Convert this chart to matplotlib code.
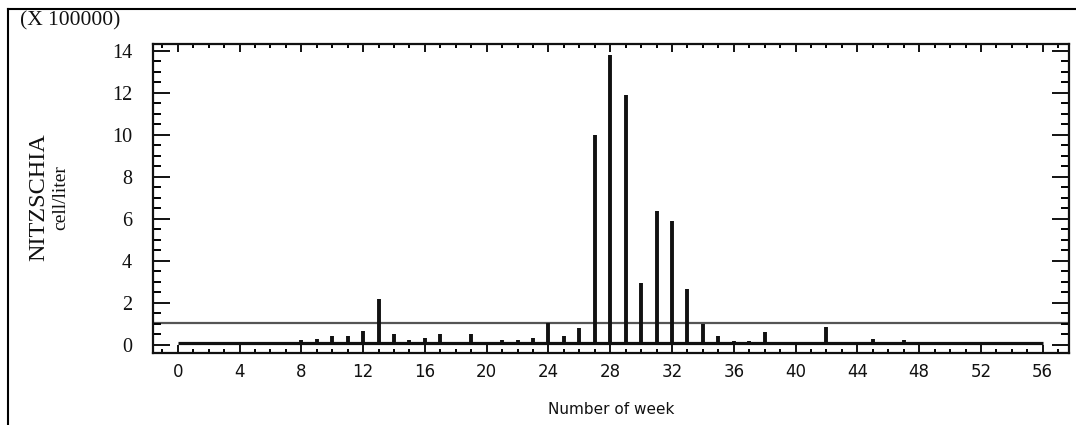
import numpy as np
import matplotlib
matplotlib.use("Agg")
import matplotlib.pyplot as plt
from matplotlib.lines import Line2D
from matplotlib.ticker import MultipleLocator

# weekly counts (x 100000 cell/liter)
weeks = list(range(0, 57))
values = [0, 0, 0, 0, 0, 0, 0, 0, 0.22, 0.30,
          0.43, 0.43, 0.68, 2.2, 0.52, 0.22, 0.32, 0.52, 0, 0.52,
          0, 0.22, 0.22, 0.32, 1.05, 0.43, 0.80, 10.0, 13.8, 11.9,
          2.95, 6.38, 5.9, 2.68, 1.0, 0.41, 0.20, 0.20, 0.59, 0,
          0, 0, 0.87, 0, 0, 0.30, 0, 0.22, 0, 0,
          0, 0, 0, 0, 0, 0, 0]
mean_level = 1.04
x_ticks = list(range(0, 57, 4))
y_ticks = list(range(0, 15, 2))

fig = plt.figure(figsize=(10.76, 4.25), dpi=100)
ax = fig.add_axes([153 / 1076, 1 - 353 / 425, (1069 - 153) / 1076, (353 - 44) / 425])

# baseline + bars
ax.hlines(0.07, 0, 56, color="#111111", lw=2.3, zorder=2)
ax.vlines(weeks, 0.07, [max(v, 0.07) for v in values], color="#111111", lw=2.8, zorder=3)
ax.axhline(mean_level, color="#555555", lw=1.6, zorder=1)

ax.set_xlim(-1.6, 57.7)
ax.set_ylim(-0.39, 14.32)

ax.xaxis.set_major_locator(MultipleLocator(4))
ax.xaxis.set_minor_locator(MultipleLocator(1))
ax.yaxis.set_major_locator(MultipleLocator(2))
ax.yaxis.set_minor_locator(MultipleLocator(0.5))
ax.set_xticks(x_ticks)
ax.set_yticks(y_ticks)

for s in ax.spines.values():
    s.set_linewidth(1.6)
    s.set_color("#111111")

ax.tick_params(axis="x", which="major", direction="in", length=5.8, width=1.4,
               top=True, bottom=True, pad=7, labelsize=12, colors="#111111")
ax.tick_params(axis="x", which="minor", direction="in", length=3.0, width=1.4,
               top=True, bottom=True)
ax.tick_params(axis="y", which="major", direction="in", length=12.2, width=1.4,
               left=True, right=True, pad=15, labelsize=14.5, colors="#111111")
ax.tick_params(axis="y", which="minor", direction="in", length=6, width=1.4,
               left=True, right=True)
for lab in ax.get_yticklabels():
    lab.set_fontfamily("Liberation Serif")
for lab in ax.get_xticklabels():
    lab.set_fontfamily("DejaVu Sans")

fig.text(20 / 1076, 1 - 21 / 425, "(X 100000)", ha="left", va="center",
         fontsize=15.5, family="Liberation Serif", color="#111111")
fig.text(39 / 1076, 1 - 197 / 425, "NITZSCHIA", rotation=90, ha="center", va="center",
         fontsize=17.5, family="Liberation Serif", color="#111111")
fig.text(61 / 1076, 1 - 198 / 425, "cell/liter", rotation=90, ha="center", va="center",
         fontsize=14, family="Liberation Serif", color="#111111")
fig.text(611 / 1076, 1 - 409 / 425, "Number of week", ha="center", va="center",
         fontsize=11, family="DejaVu Sans", color="#111111")

# outer frame (top and left edges visible)
fig.add_artist(Line2D([8 / 1076, 1.0], [1 - 9 / 425, 1 - 9 / 425], color="black", lw=1.5))
fig.add_artist(Line2D([8 / 1076, 8 / 1076], [0, 1 - 9 / 425], color="black", lw=1.5))

fig.savefig("out.png", dpi=100)
